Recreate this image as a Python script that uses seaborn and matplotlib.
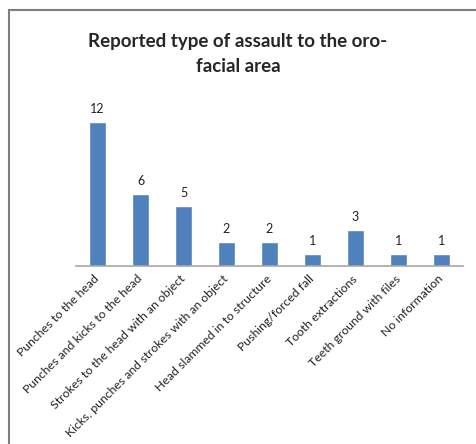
import matplotlib
matplotlib.use('Agg')
import matplotlib.pyplot as plt
import seaborn as sns
import pandas as pd
from matplotlib.patches import Rectangle

# categories and counts
categories = ['Punches to the head', 'Punches and kicks to the head',
              'Strokes to the head with an object',
              'Kicks, punches and strokes with an object',
              'Head slammed in to structure', 'Pushing/forced fall',
              'Tooth extractions', 'Teeth ground with files', 'No information']
counts = [12, 6, 5, 2, 2, 1, 3, 1, 1]

df = pd.DataFrame({'type': categories, 'n': counts})

sns.set_style('white')
plt.rcParams['font.family'] = ['Lato', 'DejaVu Sans']

fig = plt.figure(figsize=(4.76, 4.44), dpi=100)
ax = fig.add_axes([76 / 476, 178 / 444, 387 / 476, 168 / 444])

sns.barplot(data=df, x='type', y='n', color='#4F81BD', width=0.4,
            saturation=1, ax=ax)

# value labels above bars
for i, v in enumerate(counts):
    ax.text(i, v + 0.6, str(v), ha='center', va='bottom', fontsize=9,
            color='#222222')

ax.set_ylim(0, 14)
ax.set_xlim(-0.5, len(categories) - 0.5)
ax.set_xlabel('')
ax.set_ylabel('')
ax.set_yticks([])
ax.tick_params(axis='x', length=0, pad=8)
ax.set_xticks(range(len(categories)))
ax.set_xticklabels(categories, rotation=45, ha='right', va='center',
                   rotation_mode='anchor', fontsize=8.8, color='#222222')
for s in ['top', 'left', 'right']:
    ax.spines[s].set_visible(False)
ax.spines['bottom'].set_color('#a6a6a6')
ax.spines['bottom'].set_linewidth(1.2)

fig.text(0.5, 1 - 54 / 444, 'Reported type of assault to the oro-\nfacial area',
         ha='center', va='center', fontsize=13.5, fontweight='bold',
         linespacing=1.5)

# chart area border (cut off at right and bottom in the reference)
fig.patches.append(Rectangle((9 / 476, -0.1), 1.0, 1 - 10 / 444 + 0.1,
                             transform=fig.transFigure, fill=False,
                             edgecolor='#7f7f7f', linewidth=1.5))

fig.savefig('out.png', dpi=100)
